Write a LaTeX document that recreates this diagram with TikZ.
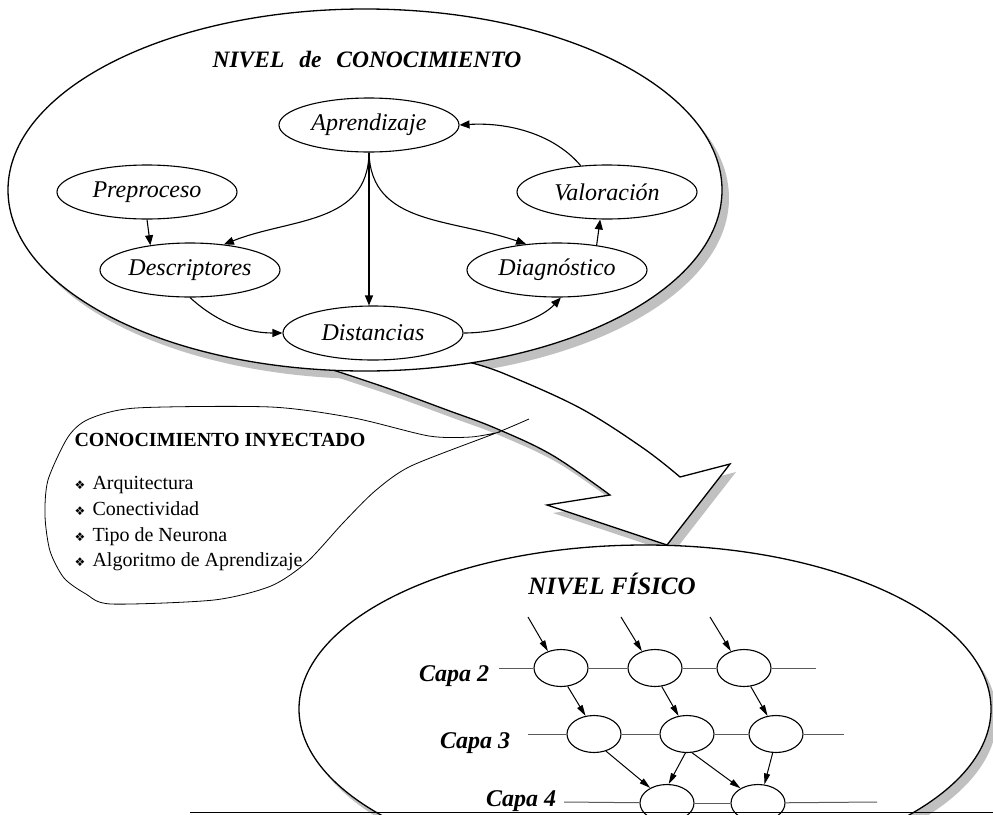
\documentclass[tikz,border=0pt]{standalone}
\usepackage{fontspec}
\setmainfont{Liberation Serif}
\newfontfamily\symfont{DejaVu Sans}
\usetikzlibrary{shapes.geometric,arrows.meta}
\definecolor{shadowgray}{RGB}{192,192,192}
\definecolor{linegray}{RGB}{90,90,90}
\newcommand\bigarrowpath{(300,352) -- (440,345) -- plot[smooth,tension=0.6] coordinates {(472,363) (505,374) (580,408) (643,448) (680,477)} -- (730,464) -- (667,545) -- (547,505) -- plot[smooth,tension=0.6] coordinates {(610,495) (552,455) (495,428) (447,410) (387,388) (333,370)} -- cycle}
\newcommand\mybul{\makebox[18pt][l]{\symfont\fontsize{12}{12}\selectfont ❖}}
\begin{document}
\begin{tikzpicture}[x=1pt,y=-1pt,
  knode/.style={ellipse,draw,line width=1.1pt,fill=white,minimum width=180pt,minimum height=54pt,inner sep=0pt,font=\fontsize{24}{28}\selectfont\itshape},
  conn/.style={line width=1.1pt,-{Triangle[length=10pt,width=8pt]}},
  gnode/.style={ellipse,draw,line width=1.1pt,fill=white,minimum width=54pt,minimum height=37pt,inner sep=0pt},
  garrow/.style={line width=1pt,-{Triangle[length=11pt,width=6pt]}},
  hline/.style={linegray,line width=1pt},
  capa/.style={font=\fontsize{24}{28}\selectfont\bfseries\itshape,anchor=base},
  bigline/.style={line width=1.3pt},
  txt/.style={anchor=base west,font=\fontsize{20}{24}\selectfont},
]
\useasboundingbox (0,0) rectangle (993,814);
\clip (0,0) rectangle (993,814);

% shadows
\fill[shadowgray] (372,198) ellipse [x radius=357, y radius=181];
\fill[shadowgray, shift={(6,8)}] \bigarrowpath;
% big arrow
\filldraw[fill=white, bigline, line join=miter] \bigarrowpath;
% top ellipse
\filldraw[fill=white, bigline] (365,190) ellipse [x radius=357, y radius=181];

\node[font=\fontsize{23.5}{27}\selectfont\bfseries\itshape] (title) at (367,60) {NIVEL\hspace{9pt} de\hspace{9pt} CONOCIMIENTO};

\node[knode] (Apr) at (369,125) {Aprendizaje};
\node[knode] (Pre) at (147,192) {Preproceso};
\node[knode] (Des) at (190,270) {Descriptores};
\node[knode] (Dis) at (373,333) {Distancias};
\node[knode] (Val) at (607,192) {Valoración};
\node[knode] (Dia) at (557,270) {Diagnóstico};

\draw[conn] (Apr.south) -- (Apr.south |- Dis.north);
\draw[conn] (Apr.south) .. controls (368,225) and (290,218) .. (Des.37);
\draw[conn] (Apr.south) .. controls (371,225) and (450,218) .. (Dia.140);
\draw[conn] (Pre.south) -- (Des.148);
\draw[conn] (Des.south) .. controls (220,325) and (250,333) .. (Dis.west);
\draw[conn] (Dis.east) .. controls (500,333) and (540,320) .. (Dia.-82);
\draw[conn] (Dia.32) -- (Val.-104);
\draw[conn] (Val.135) .. controls (555,135) and (510,122) .. (Apr.east);

% bottom ellipse
\fill[shadowgray] (651,717) ellipse [x radius=346, y radius=164];
\filldraw[fill=white, bigline] (645,709) ellipse [x radius=346, y radius=164];
\node[font=\fontsize{25}{29}\selectfont\bfseries\itshape] (fis) at (612,584) {NIVEL FÍSICO};

% callout
\draw[line width=0.8pt] plot[smooth,tension=0.45] coordinates {(529,419) (496,433) (411,466) (375,491) (343,523) (307,562) (271,586) (214,600) (111,604) (86,594) (64,578) (50,551) (45,516) (48,480) (68,437) (89,419) (136,408) (271,407) (354,418) (429,436) (471,437) (500,432)};
\node[txt,font=\fontsize{20}{24}\selectfont\bfseries] (ct) at (71,446) {CONOCIMIENTO INYECTADO};
\node[txt] (b1) at (71,489) {\mybul Arquitectura};
\node[txt] (b2) at (71,515) {\mybul Conectividad};
\node[txt] (b3) at (71,541) {\mybul Tipo de Neurona};
\node[txt] (b4) at (71,566) {\mybul Algoritmo de Aprendizaje};

% network
\node[gnode] (c21) at (561,668) {};
\node[gnode] (c22) at (655,668) {};
\node[gnode] (c23) at (744,668) {};
\node[gnode] (c31) at (594,734) {};
\node[gnode] (c32) at (687,734) {};
\node[gnode] (c33) at (776,734) {};
\node[gnode] (c41) at (667,803) {};
\node[gnode] (c42) at (758,803) {};

\coordinate (r2s) at (499,668);
\coordinate (r2e) at (816,668);
\coordinate (r3s) at (528,734);
\coordinate (r3e) at (844,734);
\coordinate (r4s) at (564,802);
\coordinate (r4e) at (877,802);
\draw[hline] (r2s) -- (c21); \draw[hline] (c21) -- (c22); \draw[hline] (c22) -- (c23); \draw[hline] (c23) -- (r2e);
\draw[hline] (r3s) -- (c31); \draw[hline] (c31) -- (c32); \draw[hline] (c32) -- (c33); \draw[hline] (c33) -- (r3e);
\draw[hline] (r4s) -- (c41); \draw[hline] (c41) -- (c42); \draw[hline] (c42) -- (r4e);

\node[capa] (cap2) at (454,681) {Capa 2};
\node[capa] (cap3) at (475,748) {Capa 3};
\node[capa] (cap4) at (521,806) {Capa 4};

\coordinate (in1) at (528,617);
\coordinate (in2) at (621,617);
\coordinate (in3) at (710,617);
\draw[garrow] (in1) -- (c21.128);
\draw[garrow] (in2) -- (c22.128);
\draw[garrow] (in3) -- (c23.128);
\draw[garrow] (c21.-70) -- (c31.115);
\draw[garrow] (c22.-70) -- (c32.115);
\draw[garrow] (c23.-70) -- (c33.115);
\draw[garrow] (c31.-55) -- (c41.138);
\draw[garrow] (c32.-95) -- (c41.85);
\draw[garrow] (c32.-75) -- (c42.140);
\draw[garrow] (c33.-100) -- (c42.71);

% bottom frame line
\coordinate (bl1) at (190,812.5);
\coordinate (bl2) at (993,812.5);
\draw[line width=1.6pt] (bl1) -- (bl2);
\end{tikzpicture}
\end{document}
